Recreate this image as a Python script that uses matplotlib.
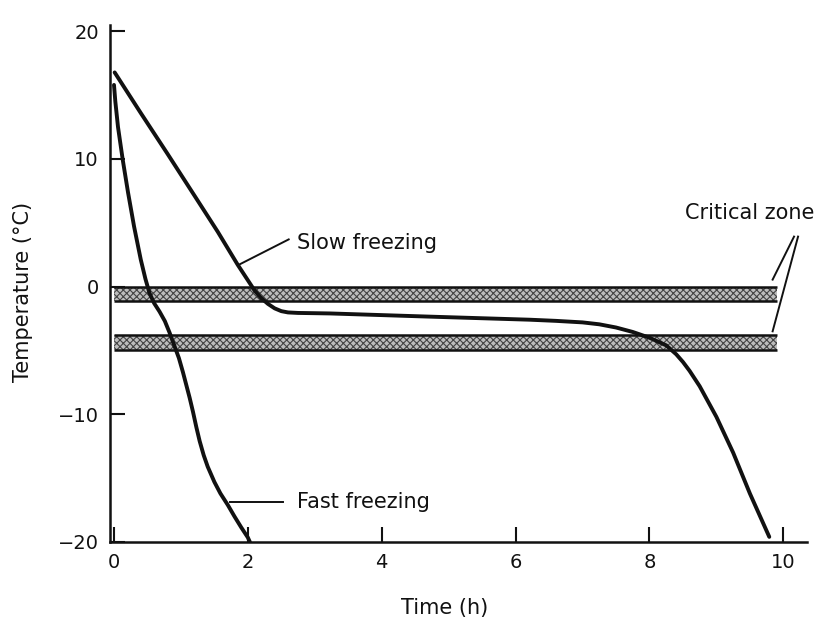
import matplotlib
matplotlib.use("Agg")
import matplotlib.pyplot as plt

plt.rcParams["font.family"] = ["DejaVu Sans"]
plt.rcParams["hatch.linewidth"] = 0.8
plt.rcParams["hatch.color"] = "#444444"

# ---- Cooling curves (time in h, temperature in degC) ------------------------
fast_t = [0.0, 0.02, 0.06, 0.13, 0.21, 0.30, 0.40, 0.47, 0.53, 0.60, 0.68,
          0.76, 0.83, 0.90, 0.97, 1.03, 1.07, 1.13, 1.18, 1.23, 1.28, 1.34,
          1.40, 1.50, 1.59, 1.70, 1.80, 1.90, 2.00, 2.03]
fast_T = [15.8, 14.5, 12.5, 9.96, 7.37, 4.71, 2.12, 0.6, -0.5, -1.3, -1.95,
          -2.7, -3.6, -4.6, -5.6, -6.7, -7.5, -8.7, -9.8, -11.0, -12.1, -13.2,
          -14.1, -15.3, -16.2, -17.1, -18.0, -18.85, -19.65, -20.0]

slow_t = [0.01, 0.40, 0.80, 1.20, 1.55, 1.85, 2.00, 2.10, 2.20, 2.30, 2.40,
          2.50, 2.60, 2.75, 3.00, 3.23, 4.72, 6.21, 6.60, 7.00, 7.25, 7.50,
          7.75, 8.00, 8.25, 8.40, 8.50, 8.60, 8.75, 9.00, 9.25, 9.50, 9.79]
slow_T = [16.78, 13.6, 10.4, 7.15, 4.3, 1.7, 0.5, -0.3, -0.9, -1.35, -1.7,
          -1.92, -2.02, -2.06, -2.08, -2.1, -2.35, -2.59, -2.68, -2.8, -2.95,
          -3.2, -3.55, -4.0, -4.6, -5.3, -5.9, -6.6, -7.8, -10.2, -13.0,
          -16.2, -19.6]

# critical zone bands (lower, upper) and their right end
zones = [(-1.1, 0.0), (-5.0, -3.8)]
zone_end = 9.9

xticks = [0, 2, 4, 6, 8, 10]
yticks = [-20, -10, 0, 10, 20]

fig = plt.figure(figsize=(8.3, 6.17), dpi=100)
ax = fig.add_axes([0.1325, 0.1216, 0.8395, 0.838])

ink = "#111111"

for lo, hi in zones:
    ax.fill_between([0, zone_end], lo, hi, facecolor="#bdbdbd",
                    hatch="xxxxx", edgecolor="#444444", linewidth=0, zorder=1)
    ax.hlines([lo, hi], 0, zone_end, color=ink, lw=1.8, zorder=2)

ax.plot(fast_t, fast_T, color=ink, lw=2.8, solid_capstyle="round",
        solid_joinstyle="round", zorder=3)
ax.plot(slow_t, slow_T, color=ink, lw=2.8, solid_capstyle="round",
        solid_joinstyle="round", zorder=3)

# labels with leader lines
ax.plot([2.61, 1.86], [3.7, 1.7], color=ink, lw=1.4)
ax.text(2.74, 3.45, "Slow freezing", fontsize=15, color=ink, va="center")
ax.plot([1.74, 2.53], [-16.9, -16.9], color=ink, lw=1.4)
ax.text(2.74, -16.9, "Fast freezing", fontsize=15, color=ink, va="center")
ax.plot([10.16, 9.84], [3.92, 0.55], color=ink, lw=1.4)
ax.plot([10.22, 9.84], [3.92, -3.5], color=ink, lw=1.4)
ax.text(9.49, 5.8, "Critical zone", fontsize=15, color=ink,
        ha="center", va="center")

ax.set_xlim(-0.06, 10.35)
ax.set_ylim(-20, 20.5)
ax.set_xticks(xticks)
ax.set_yticks(yticks)
ax.tick_params(direction="in", length=11, width=1.5, colors=ink,
               labelsize=14, pad=8)
for side in ["top", "right"]:
    ax.spines[side].set_visible(False)
for side in ["left", "bottom"]:
    ax.spines[side].set_linewidth(1.8)
    ax.spines[side].set_color(ink)

ax.set_xlabel("Time (h)", fontsize=15, color=ink)
ax.xaxis.set_label_coords(0.48, -0.108)
ax.set_ylabel("Temperature (°C)", fontsize=15, color=ink)
ax.yaxis.set_label_coords(-0.11, 0.484)

fig.savefig("out.png", dpi=100)
